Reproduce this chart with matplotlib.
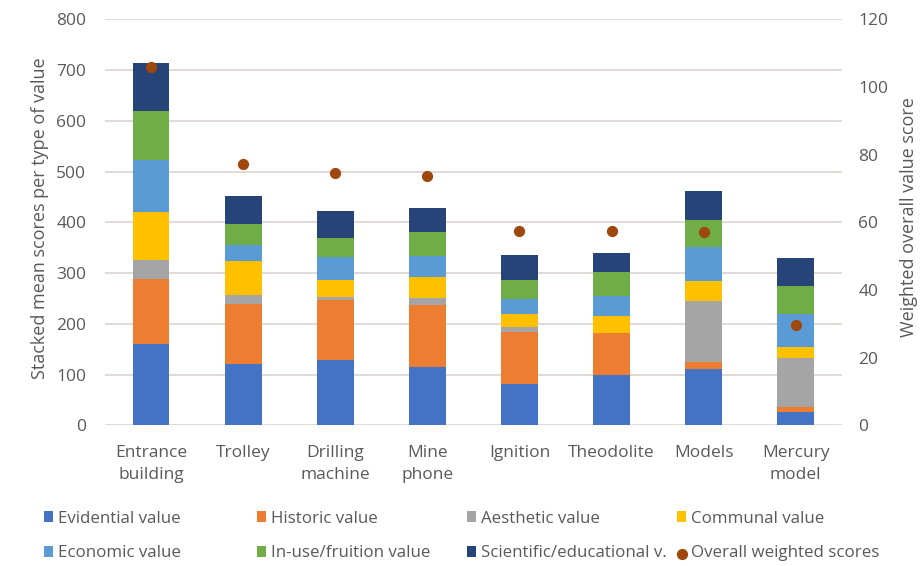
import matplotlib.pyplot as plt
import numpy as np

# Categories and stacked mean scores
objects = ["Entrance\nbuilding", "Trolley", "Drilling\nmachine", "Mine\nphone",
           "Ignition", "Theodolite", "Models", "Mercury\nmodel"]
evidential = [161, 120, 128, 115, 82, 100, 110, 27]
historic = [127, 119, 118, 122, 102, 81, 14, 9]
aesthetic = [37, 18, 6, 14, 10, 0, 120, 96]
communal = [96, 66, 34, 41, 26, 34, 41, 23]
economic = [102, 33, 45, 42, 28, 40, 66, 64]
in_use = [96, 41, 38, 46, 39, 47, 54, 56]
scientific = [94, 55, 54, 49, 49, 37, 57, 54]
# Overall weighted scores (right axis)
overall = [106, 77.3, 74.5, 73.7, 57.3, 57.3, 57, 29.5]

series = [("Evidential value", evidential, "#4472C4"),
          ("Historic value", historic, "#ED7D31"),
          ("Aesthetic value", aesthetic, "#A5A5A5"),
          ("Communal value", communal, "#FFC000"),
          ("Economic value", economic, "#5B9BD5"),
          ("In-use/fruition value", in_use, "#70AD47"),
          ("Scientific/educational v.", scientific, "#264478")]

text_col = "#595959"
plt.rcParams['font.family'] = ['Open Sans', 'DejaVu Sans']

fig = plt.figure(figsize=(9.22, 5.66), dpi=100)
ax = fig.add_axes([0.1139, 0.2486, 0.913 - 0.1139, 0.966 - 0.2486])

x = np.arange(len(objects))
bottom = np.zeros(len(objects))
handles = []
for name, vals, col in series:
    b = ax.bar(x, vals, 0.4, bottom=bottom, color=col, label=name, zorder=3)
    handles.append(b)
    bottom += np.array(vals)

ax.set_xlim(-0.5, len(objects) - 0.5)
ax.set_ylim(0, 800)
ax.set_yticks(range(0, 801, 100))
ax.grid(axis='y', color='#ddd3cf', linewidth=1.2, zorder=0)
ax.set_xticks(x)
ax.set_xticklabels(objects, fontsize=12.5, color=text_col, linespacing=1.5)
ax.tick_params(axis='both', length=0, labelsize=12.5, colors=text_col)
ax.tick_params(axis='x', pad=14.5)
ax.tick_params(axis='y', pad=13.5)
for s in ax.spines.values():
    s.set_visible(False)
ax.set_ylabel("Stacked mean scores per type of value", fontsize=13,
              color=text_col)
ax.yaxis.set_label_coords(-0.076, 0.509)

ax2 = ax.twinx()
ax2.set_ylim(0, 120)
ax2.set_yticks(range(0, 121, 20))
ax2.tick_params(axis='y', length=0, labelsize=12.5, colors=text_col, pad=12)
for s in ax2.spines.values():
    s.set_visible(False)
dots = ax2.scatter(x, overall, s=50, color="#9E480E", zorder=5,
                   label="Overall weighted scores")
ax2.set_ylabel("Weighted overall value score", fontsize=13, color=text_col)
ax2.yaxis.set_label_coords(1.0787, 0.513)

# legend: 4 fixed-width columns, 2 rows each
h = handles + [dots]
col_x = [44, 257, 467, 677]
for i, cx in enumerate(col_x):
    pair = [h[i], h[i + 4]]
    fig.legend(pair, [p.get_label() for p in pair], loc='center left',
               bbox_to_anchor=(cx / 922, 0.053), frameon=False,
               fontsize=12.2, labelcolor=text_col, borderpad=0,
               borderaxespad=0, handlelength=0.55, handleheight=0.55,
               handletextpad=0.3, labelspacing=1.12)

fig.savefig("out.png", dpi=100, facecolor='white')
